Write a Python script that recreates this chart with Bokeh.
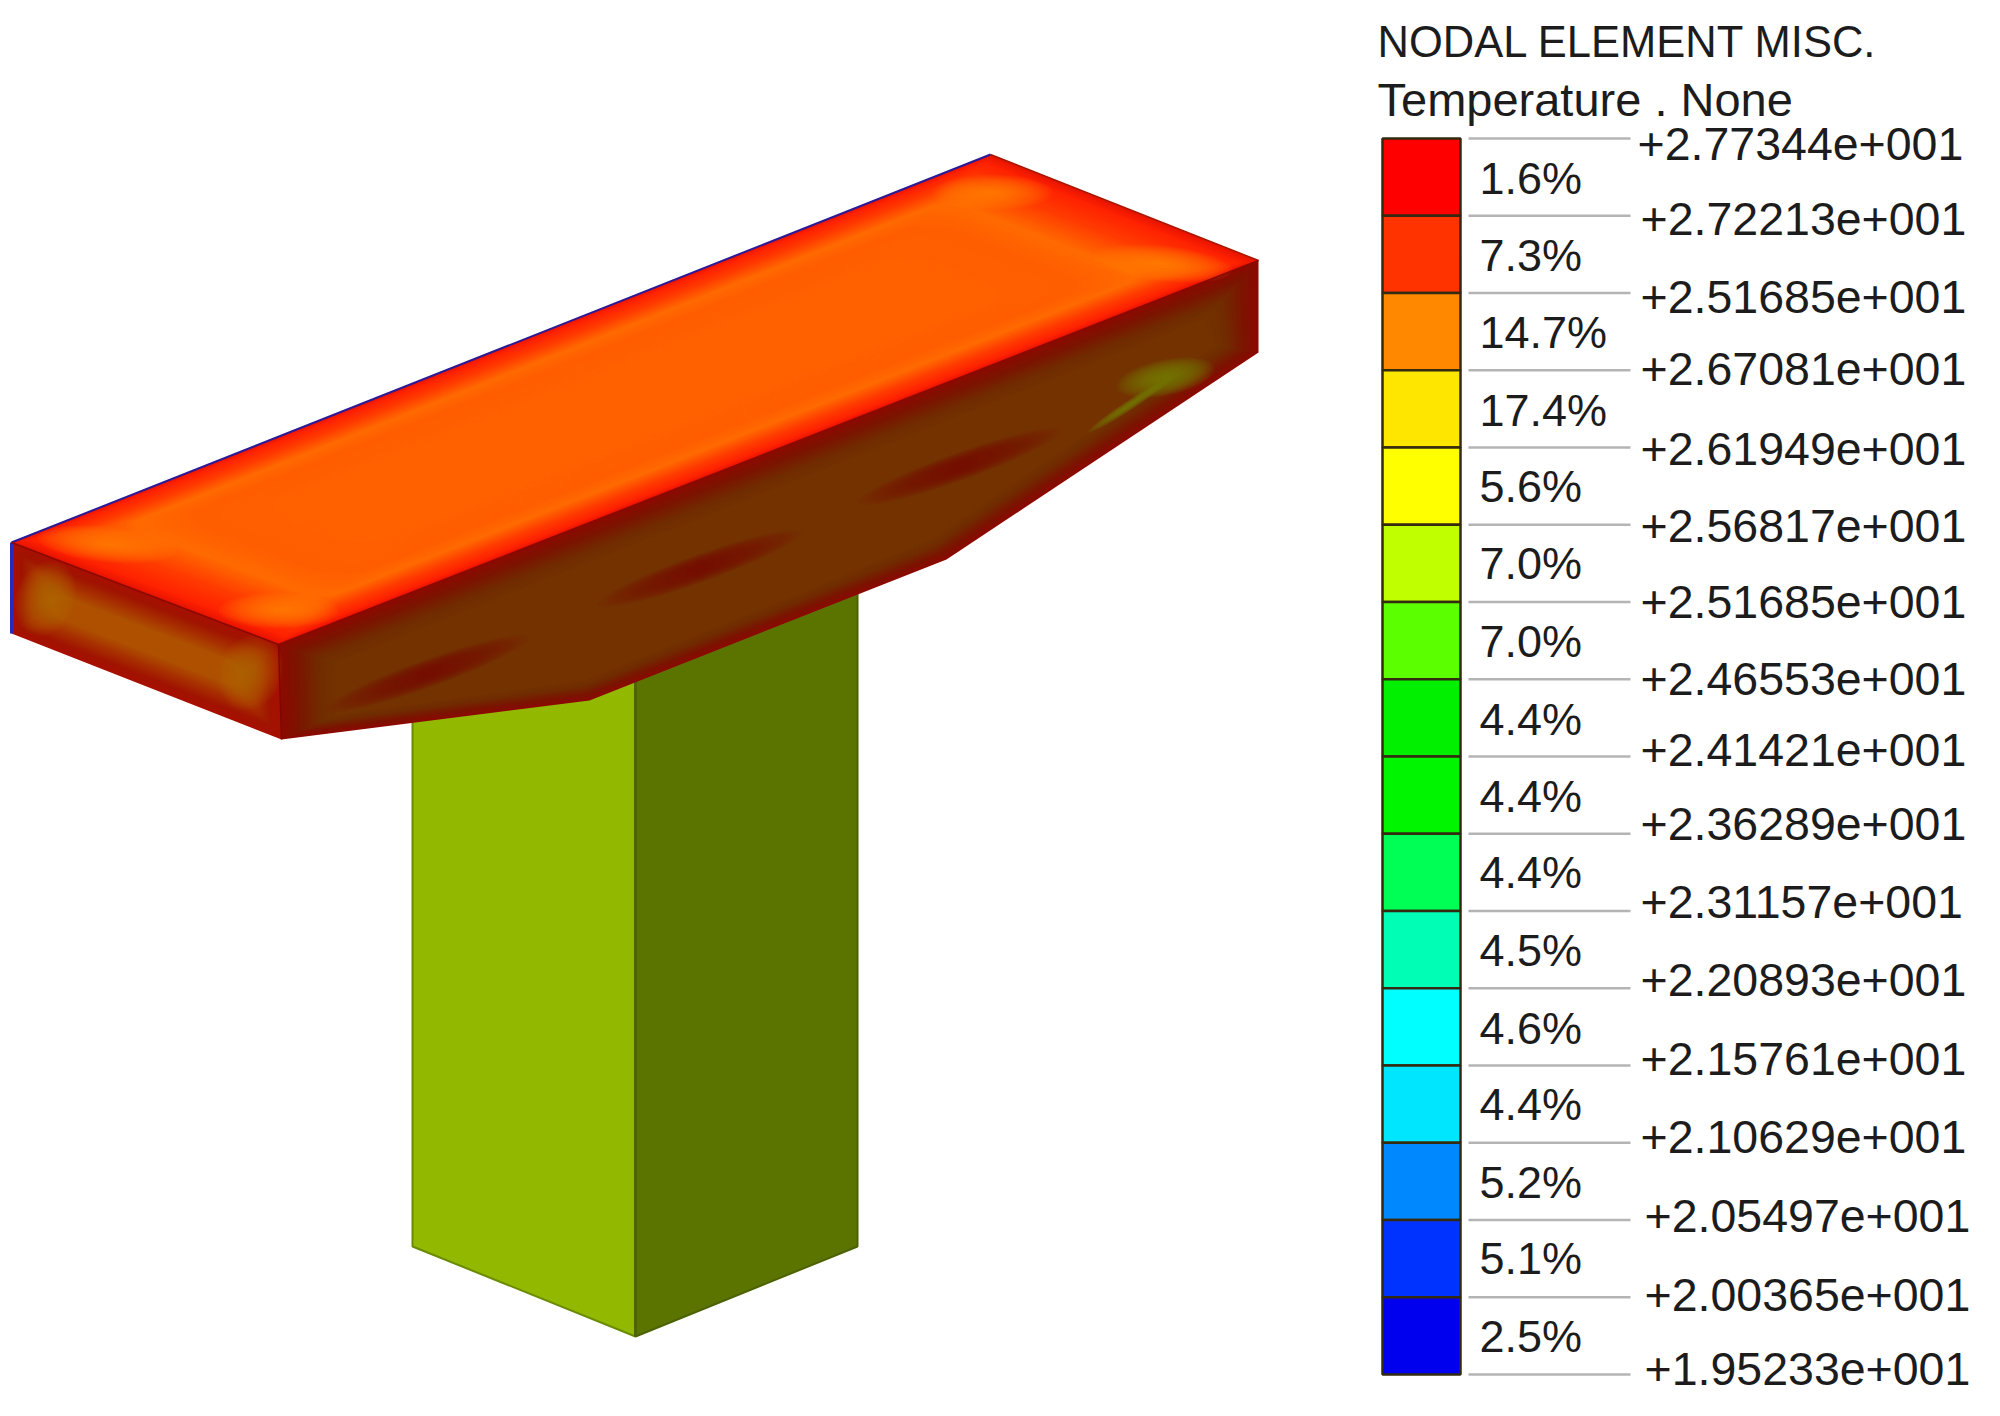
import numpy as np
from bokeh.plotting import figure
from bokeh.models import Range1d
from bokeh.core.properties import value
from bokeh.embed import file_html
from bokeh.resources import INLINE

# ---- legend data ----
percent_labels = ["1.6%", "7.3%", "14.7%", "17.4%", "5.6%", "7.0%", "7.0%", "4.4%",
                  "4.4%", "4.4%", "4.5%", "4.6%", "4.4%", "5.2%", "5.1%", "2.5%"]
band_colors = ["#ff0000", "#ff3300", "#ff8800", "#ffe600", "#ffff00", "#bfff00", "#5cff00", "#00f000",
               "#00f500", "#00ff55", "#00ffb4", "#00ffff", "#00e6ff", "#0088ff", "#0033ff", "#0000ee"]
value_labels = ["+2.77344e+001", "+2.72213e+001", "+2.51685e+001", "+2.67081e+001", "+2.61949e+001",
                "+2.56817e+001", "+2.51685e+001", "+2.46553e+001", "+2.41421e+001", "+2.36289e+001",
                "+2.31157e+001", "+2.20893e+001", "+2.15761e+001", "+2.10629e+001", "+2.05497e+001",
                "+2.00365e+001", "+1.95233e+001"]
value_x = [1637, 1640, 1640, 1640, 1640, 1640, 1640, 1640, 1640, 1640, 1640, 1640, 1640, 1640, 1644, 1644, 1644]
value_y = [143, 218, 296, 368, 448, 525, 601, 678, 749, 823, 901, 979, 1058, 1136, 1215, 1294, 1368]
percent_y = [178, 255, 332, 410, 486, 563, 641, 719, 796, 872, 950, 1028, 1104, 1182, 1258, 1336]
title_lines = ["NODAL ELEMENT MISC.", "Temperature . None"]
title_sizes = ["43.5px", "47px"]

# ---- geometry of the model (picture coordinates) ----
top_face = [(11, 542), (990, 154), (1258, 260), (278, 644)]
front_face = [(11, 542), (278, 644), (281, 739), (11, 633)]
side_outer = [(278, 644), (1258, 260), (1258, 352), (946, 559), (589, 700), (281, 739)]
side_inner = [(335, 662), (1205, 318), (1215, 345), (930, 540), (585, 680), (335, 715)]
col_left = [(412, 700), (635, 680), (635, 1336), (412, 1246)]
col_right = [(635, 680), (857, 590), (857, 1246), (635, 1336)]
stripes = [((427, 673), 108, 12), ((699, 568), 108, 12), ((959, 466), 108, 12)]
corner_spots = [((107, 544), 70, 18, 0.1), ((278, 610), 60, 18, 0.0),
                ((992, 192), 60, 18, 0.0), ((1162, 263), 70, 18, 0.1)]
front_spots = [((45, 598), 30, 62), ((250, 672), 32, 62)]
green_blobs = [((1165, 377), 50, 18, -0.2), ((1130, 404), 52, 5, -0.58)]
top_stops = [(0, "#e81400"), (8, "#ff2200"), (28, "#ff3c00"), (52, "#ff6a00"), (75, "#ff5e00"), (120, "#ff6000")]
front_stops = [(0, "#a81000"), (12, "#a01400"), (30, "#a83200"), (46, "#ae5000")]
side_stops = [(0.0, "#8c0a00"), (0.3, "#7c1400"), (0.7, "#712c00"), (1.0, "#733200")]


def lerp_color(stops, d):
    xs = [s[0] for s in stops]
    rgb = [[int(s[1][i:i + 2], 16) for i in (1, 3, 5)] for s in stops]
    c = [int(round(np.interp(d, xs, [r[k] for r in rgb]))) for k in range(3)]
    return "#%02x%02x%02x" % tuple(c)


def rounded_quad(quad, du, dv, r):
    q = np.array(quad, float)
    lu = np.linalg.norm(q[1] - q[0])
    lv = np.linalg.norm(q[3] - q[0])
    corners = [(du + r, dv + r, np.pi), (lu - du - r, dv + r, 1.5 * np.pi),
               (lu - du - r, lv - dv - r, 0), (du + r, lv - dv - r, 0.5 * np.pi)]
    pts = []
    for cu, cv, a0 in corners:
        for a in np.linspace(a0, a0 + np.pi / 2, 8):
            pts.append(((cu + r * np.cos(a)) / lu, (cv + r * np.sin(a)) / lv))
    x, y = [], []
    for u, v in pts:
        pt = (1 - u) * (1 - v) * q[0] + u * (1 - v) * q[1] + u * v * q[2] + (1 - u) * v * q[3]
        x.append(pt[0])
        y.append(pt[1])
    return x, y


def blob(c, a, b, th):
    t = np.linspace(0, 2 * np.pi, 40)
    x = a * np.cos(t)
    y = b * np.sin(t)
    return list(c[0] + x * np.cos(th) - y * np.sin(th)), list(c[1] + x * np.sin(th) + y * np.cos(th))


p = figure(width=1984, height=1400, x_range=Range1d(0, 1984), y_range=Range1d(1400, 0),
           output_backend="svg", toolbar_location=None, min_border=0,
           background_fill_color="white", border_fill_color="white", outline_line_color=None)
p.axis.visible = False
p.grid.visible = False


def poly(xy, color, line=None, lw=0):
    p.patch([a[0] for a in xy], [a[1] for a in xy], fill_color=color, line_color=line, line_width=lw)


def layers(shapes, colors, alpha=1.0):
    p.patches(xs=[s[0] for s in shapes], ys=[s[1] for s in shapes], fill_color=colors,
              fill_alpha=alpha, line_color=None)


# column
poly(col_left, "#92b800", "#6a8a00", 2)
poly(col_right, "#5b7400", "#4c6200", 2)
p.line([635, 635], [680, 1336], line_color="#4f6400", line_width=3)

# long side of the cap: nested contours from the outline inward
o, i = np.array(side_outer, float), np.array(side_inner, float)
ts = np.linspace(0, 1, 26)
layers([(list(o[:, 0] + t * (i - o)[:, 0]), list(o[:, 1] + t * (i - o)[:, 1])) for t in ts],
       [lerp_color(side_stops, t) for t in ts])
# dark red stripes
for c, a, b in stripes:
    fs = np.linspace(1, 0.1, 20)
    layers([blob(c, a * f, b * (0.25 + f * 0.9), -0.345) for f in fs], ["#7c0c00"] * len(fs), 0.08)
# green patch
for c, a, b, th in green_blobs:
    fs = np.linspace(1, 0.1, 18)
    layers([blob(c, a * f, b * f, th) for f in fs], ["#747f00"] * len(fs), 0.1)

# front end of the cap
ds = np.linspace(0, 46, 31)
layers([rounded_quad(front_face, d * 0.9, d * 0.72, d * 0.3) for d in ds], [lerp_color(front_stops, d) for d in ds])
# spots are clipped to the front face height by keeping them inside its bands
for c, a, b in front_spots:
    fs = np.linspace(0.62, 0.08, 16)
    layers([blob(c, a * f * 1.6, b * f, 0.36) for f in fs], ["#bc7000"] * len(fs), 0.07)

# top of the cap
ds = np.linspace(0, 120, 61)
layers([rounded_quad(top_face, min(d * 1.6, 190), d * 0.72, d * 0.4) for d in ds], [lerp_color(top_stops, d) for d in ds])
for c, a, b, th in corner_spots:
    fs = np.linspace(1, 0.1, 16)
    layers([blob(c, a * f, b * f, th) for f in fs], ["#ff8c00"] * len(fs), 0.08)

# edges
p.line([11, 990], [542, 154], line_color="#2c1a96", line_width=2)
p.line([11, 11], [542, 633], line_color="#2a2ab8", line_width=3)
p.line([990, 1258], [154, 260], line_color="#a81800", line_width=1.5)
p.line([11, 278, 1258], [542, 644, 260], line_color="#8a0800", line_width=1.5)
p.line([278, 281], [644, 739], line_color="#7c0800", line_width=1.5)

# legend
n = len(band_colors)
top, bot = 138.0, 1374.0
edges = top + (bot - top) * np.arange(n + 1) / n
p.quad(left=1382, right=1460, top=edges[:-1], bottom=edges[1:], fill_color=band_colors,
       line_color="#332a10", line_width=2.5)
p.segment(x0=[1468] * (n + 1), x1=[1630] * (n + 1), y0=edges, y1=edges, line_color="#b4b4b4", line_width=2.5)
p.text(x=[1479] * n, y=percent_y, text=percent_labels, text_font=value("Liberation Sans"),
       text_font_size="45px", text_color="#1c1c1c", text_baseline="middle")
p.text(x=value_x, y=value_y, text=value_labels, text_font=value("Liberation Sans"),
       text_font_size="46.5px", text_color="#1c1c1c", text_baseline="middle")
p.text(x=[1377], y=[41], text=[title_lines[0]], text_font=value("Liberation Sans"),
       text_font_size=title_sizes[0], text_color="#1c1c1c", text_baseline="middle")
p.text(x=[1377], y=[99], text=[title_lines[1]], text_font=value("Liberation Sans"),
       text_font_size=title_sizes[1], text_color="#1c1c1c", text_baseline="middle")

open("out.html", "w").write(file_html(p, INLINE))
